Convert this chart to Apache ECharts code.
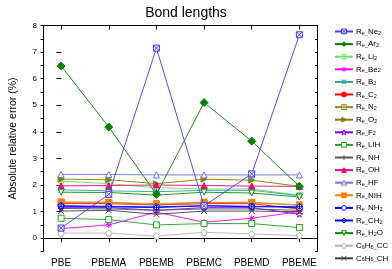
<!DOCTYPE html>
<html><head><meta charset="utf-8">
<script src="https://cdn.jsdelivr.net/npm/echarts@6/dist/echarts.min.js"></script>
<style>html,body{margin:0;padding:0;background:#fff}#c{width:392px;height:269px}</style>
</head><body><div id="c"></div>
<script>
var categories = ['PBE','PBEMA','PBEMB','PBEMC','PBEMD','PBEME'];
var yTicks = [0,1,2,3,4,5,6,7,8];
var seriesNames = ['R_e_Ne2','R_e_Ar2','R_e_Li2','R_e_Be2','R_e_B2','R_e_C2','R_e_N2','R_e_O2','R_e_F2','R_e_LIH','R_e_NH','R_e_OH','R_e_HF','R_e_NIH','R_e_NH2','R_e_CH2','R_e_H2O','C6H6_CC','C6H6_CH'];
var Ne2  = [0.38, 1.65, 7.15, 1.22, 2.42, 7.65];
var Ar2  = [6.48, 4.18, 1.65, 5.10, 3.65, 1.95];
var Li2  = [2.15, 2.05, 1.90, 1.85, 1.85, 1.62];
var Be2  = [0.36, 0.50, 0.98, 0.60, 0.75, 1.00];
var B2   = [1.82, 1.78, 1.75, 1.80, 1.80, 1.60];
var C2   = [1.30, 1.30, 1.25, 1.30, 1.30, 1.10];
var N2   = [1.35, 1.35, 1.25, 1.35, 1.35, 1.25];
var O2   = [2.22, 2.20, 2.05, 2.22, 2.18, 1.95];
var F2   = [1.15, 1.15, 1.05, 1.15, 1.15, 0.90];
var LIH  = [0.75, 0.70, 0.50, 0.55, 0.55, 0.40];
var NH   = [1.12, 1.10, 1.05, 1.10, 1.10, 1.05];
var OH   = [1.97, 1.98, 2.00, 1.98, 1.96, 1.95];
var HF   = [2.40, 2.40, 2.38, 2.38, 2.38, 2.38];
var NIH  = [1.36, 1.35, 1.30, 1.35, 1.33, 1.25];
var NH2  = [1.22, 1.20, 1.18, 1.22, 1.20, 1.15];
var CH2  = [1.20, 1.18, 1.15, 1.22, 1.18, 1.20];
var H2O  = [1.73, 1.72, 1.62, 1.73, 1.70, 1.55];
var C6H6_CC = [0.19, 0.19, 0.08, 0.22, 0.16, 0.10];
var C6H6_CH = [1.02, 1.05, 0.90, 1.02, 1.02, 1.00];
var allData = [Ne2,Ar2,Li2,Be2,B2,C2,N2,O2,F2,LIH,NH,OH,HF,NIH,NH2,CH2,H2O,C6H6_CC,C6H6_CH];

var P = {
  sqx: 'path://M0,0H10V10H0Z M0,0L10,10 M10,0L0,10',
  cplus: 'path://M10,5A5,5 0 1 1 0,5A5,5 0 1 1 10,5Z M5,0V10 M0,5H10',
  ast: 'path://M1,1L9,9M9,1L1,9M5,0V10M0,5H10',
  ast2: 'path://M0,0L10,10M10,0L0,10M5,0V10',
  sqplus: 'path://M0,0H10V10H0Z M5,0V10 M0,5H10',
  tri_r: 'path://M0,0L10,5L0,10Z',
  star: 'path://M5,0L6.2,3.6L10,3.6L6.9,5.9L8.1,9.5L5,7.3L1.9,9.5L3.1,5.9L0,3.6L3.8,3.6Z',
  plus: 'path://M5,0V10M0,5H10',
  dplus: 'path://M5,0L10,5L5,10L0,5Z M5,0V10M0,5H10',
  tri_d: 'path://M0,0H10L5,10Z',
  pent: 'path://M5,0L10,3.8L8.1,10L1.9,10L0,3.8Z',
  x: 'path://M0,0L10,10M10,0L0,10'
};
// [color, symbol, filled]
var styles = [
  ['#3b3bff', P.sqx, false],
  ['#008000', 'diamond', true],
  ['#66e066', P.cplus, false],
  ['#ff00ff', P.ast, false],
  ['#2f9f9f', P.ast2, false],
  ['#ff0000', 'circle', true],
  ['#8a8a20', P.sqplus, false],
  ['#808000', P.tri_r, true],
  ['#8000ff', P.star, false],
  ['#20a020', 'rect', false],
  ['#555555', P.plus, false],
  ['#ff0080', 'triangle', true],
  ['#7070e0', 'triangle', false],
  ['#ff8000', 'rect', true],
  ['#0000ff', 'circle', false],
  ['#0000ff', P.dplus, false],
  ['#009000', P.tri_d, false],
  ['#b0b0b0', P.pent, false],
  ['#404040', P.x, false]
];

function legendFmt(name) {
  if (name === 'R_e_H2O') return '{n|R}{s|e_}{n|H}{s|2}{n|O}';
  if (name === 'R_e_NH2') return '{n|R}{s|e_}{n|NH}{s|2}';
  if (name === 'R_e_CH2') return '{n|R}{s|e_}{n|CH}{s|2}';
  var m = name.match(/^R_e_(.*)$/);
  if (m) {
    var mm = m[1].match(/^(.*?)(\d)$/);
    if (mm) return '{n|R}{s|e_}{n|' + mm[1] + '}{s|' + mm[2] + '}';
    return '{n|R}{s|e_}{n|' + m[1] + '}';
  }
  var c = name.match(/^C6H6_(.*)$/);
  return '{n|C}{s|6}{n|H}{s|6_}{n|' + c[1] + '}';
}

var series = seriesNames.map(function (nm, i) {
  var st = styles[i];
  return {
    name: nm, type: 'line', xAxisIndex: 0, yAxisIndex: 0,
    data: allData[i].map(function (v, k) { return [k, v]; }),
    symbol: st[1], symbolSize: (st[1] === 'diamond') ? 8 : 6,
    showAllSymbol: true,
    lineStyle: { color: st[0], width: 0.9 },
    itemStyle: { color: st[2] ? st[0] : '#ffffff', borderColor: st[0], borderWidth: 1 },
    emphasis: { disabled: true },
    animation: false, z: 2 + (i === 0 || i === 1 ? 1 : 0)
  };
});
var legendData = seriesNames.map(function (nm, i) {
  var st = styles[i];
  return { name: nm, itemStyle: { color: st[2] ? st[0] : '#ffffff', borderColor: st[0], borderWidth: 1 } };
});

var font = 'Liberation Sans, Arial, sans-serif';
var tickIdx = categories.map(function (c, i) { return i; });
var option = {
  animation: false,
  title: { text: 'Bond lengths', left: 181, top: 1, textAlign: 'center',
    textStyle: { fontFamily: font, fontSize: 14, fontWeight: 'normal', color: '#000' } },
  grid: { left: 40.5, right: 74.5, top: 25.5, bottom: 17.5, containLabel: false },
  legend: {
    orient: 'vertical', left: 334, top: 27.5, itemWidth: 18, itemHeight: 6, itemGap: 4.1,
    padding: 0, selectedMode: false, data: legendData,
    formatter: legendFmt,
    textStyle: { fontFamily: font, color: '#000', padding: [0,0,0,-2],
      rich: {
        n: { fontSize: 8, fontFamily: font, lineHeight: 9, color: '#000' },
        s: { fontSize: 5.5, fontFamily: font, lineHeight: 5, verticalAlign: 'bottom', color: '#000' }
      } }
  },
  xAxis: [
    { type: 'value', position: 'bottom', min: -0.38, max: 5.38,
      axisLine: { show: true, lineStyle: { color: '#000', width: 1 } },
      axisTick: { show: true, customValues: tickIdx, length: 4, inside: false, lineStyle: { color: '#000' } },
      axisLabel: { show: true, customValues: tickIdx, margin: 7, fontFamily: font, fontSize: 10, color: '#000',
        formatter: function (v) { return categories[Math.round(v)]; } },
      splitLine: { show: false } },
    { type: 'value', position: 'top', min: -0.38, max: 5.38,
      axisLine: { show: true, onZero: false, lineStyle: { color: '#000', width: 1 } },
      axisTick: { show: true, customValues: tickIdx, length: 4, inside: true, lineStyle: { color: '#000' } },
      axisLabel: { show: false }, splitLine: { show: false } }
  ],
  yAxis: [
    { type: 'value', position: 'left', min: -0.5, max: 8, interval: 0.5,
      name: 'Absolute relative error (%)', nameLocation: 'middle', nameGap: 24, nameRotate: 90,
      nameTextStyle: { fontFamily: font, fontSize: 10.5, color: '#000' },
      axisLine: { show: true, onZero: false, lineStyle: { color: '#000', width: 1 } },
      axisTick: { show: true, length: 2.5, inside: false, lineStyle: { color: '#000' } },
      axisLabel: { show: true, margin: 6, fontFamily: font, fontSize: 8, color: '#000',
        formatter: function (v) { return (Math.abs(v - Math.round(v)) < 1e-6) ? String(Math.round(v)) : ''; } },
      splitLine: { show: false } },
    { type: 'value', position: 'left', min: -0.5, max: 8,
      axisLine: { show: false },
      axisTick: { show: true, customValues: yTicks, length: 4.5, inside: false, lineStyle: { color: '#000' } },
      axisLabel: { show: false }, splitLine: { show: false } },
    { type: 'value', position: 'right', min: -0.5, max: 8, interval: 0.5,
      axisLine: { show: true, onZero: false, lineStyle: { color: '#000', width: 1 } },
      axisTick: { show: true, length: 2.5, inside: true, lineStyle: { color: '#000' } },
      axisLabel: { show: false }, splitLine: { show: false } },
    { type: 'value', position: 'right', min: -0.5, max: 8,
      axisLine: { show: false },
      axisTick: { show: true, customValues: yTicks, length: 4.5, inside: true, lineStyle: { color: '#000' } },
      axisLabel: { show: false }, splitLine: { show: false } }
  ],
  series: series
};
var chart = echarts.init(document.getElementById('c'), null, { renderer: 'canvas' });
chart.setOption(option);
</script></body></html>
